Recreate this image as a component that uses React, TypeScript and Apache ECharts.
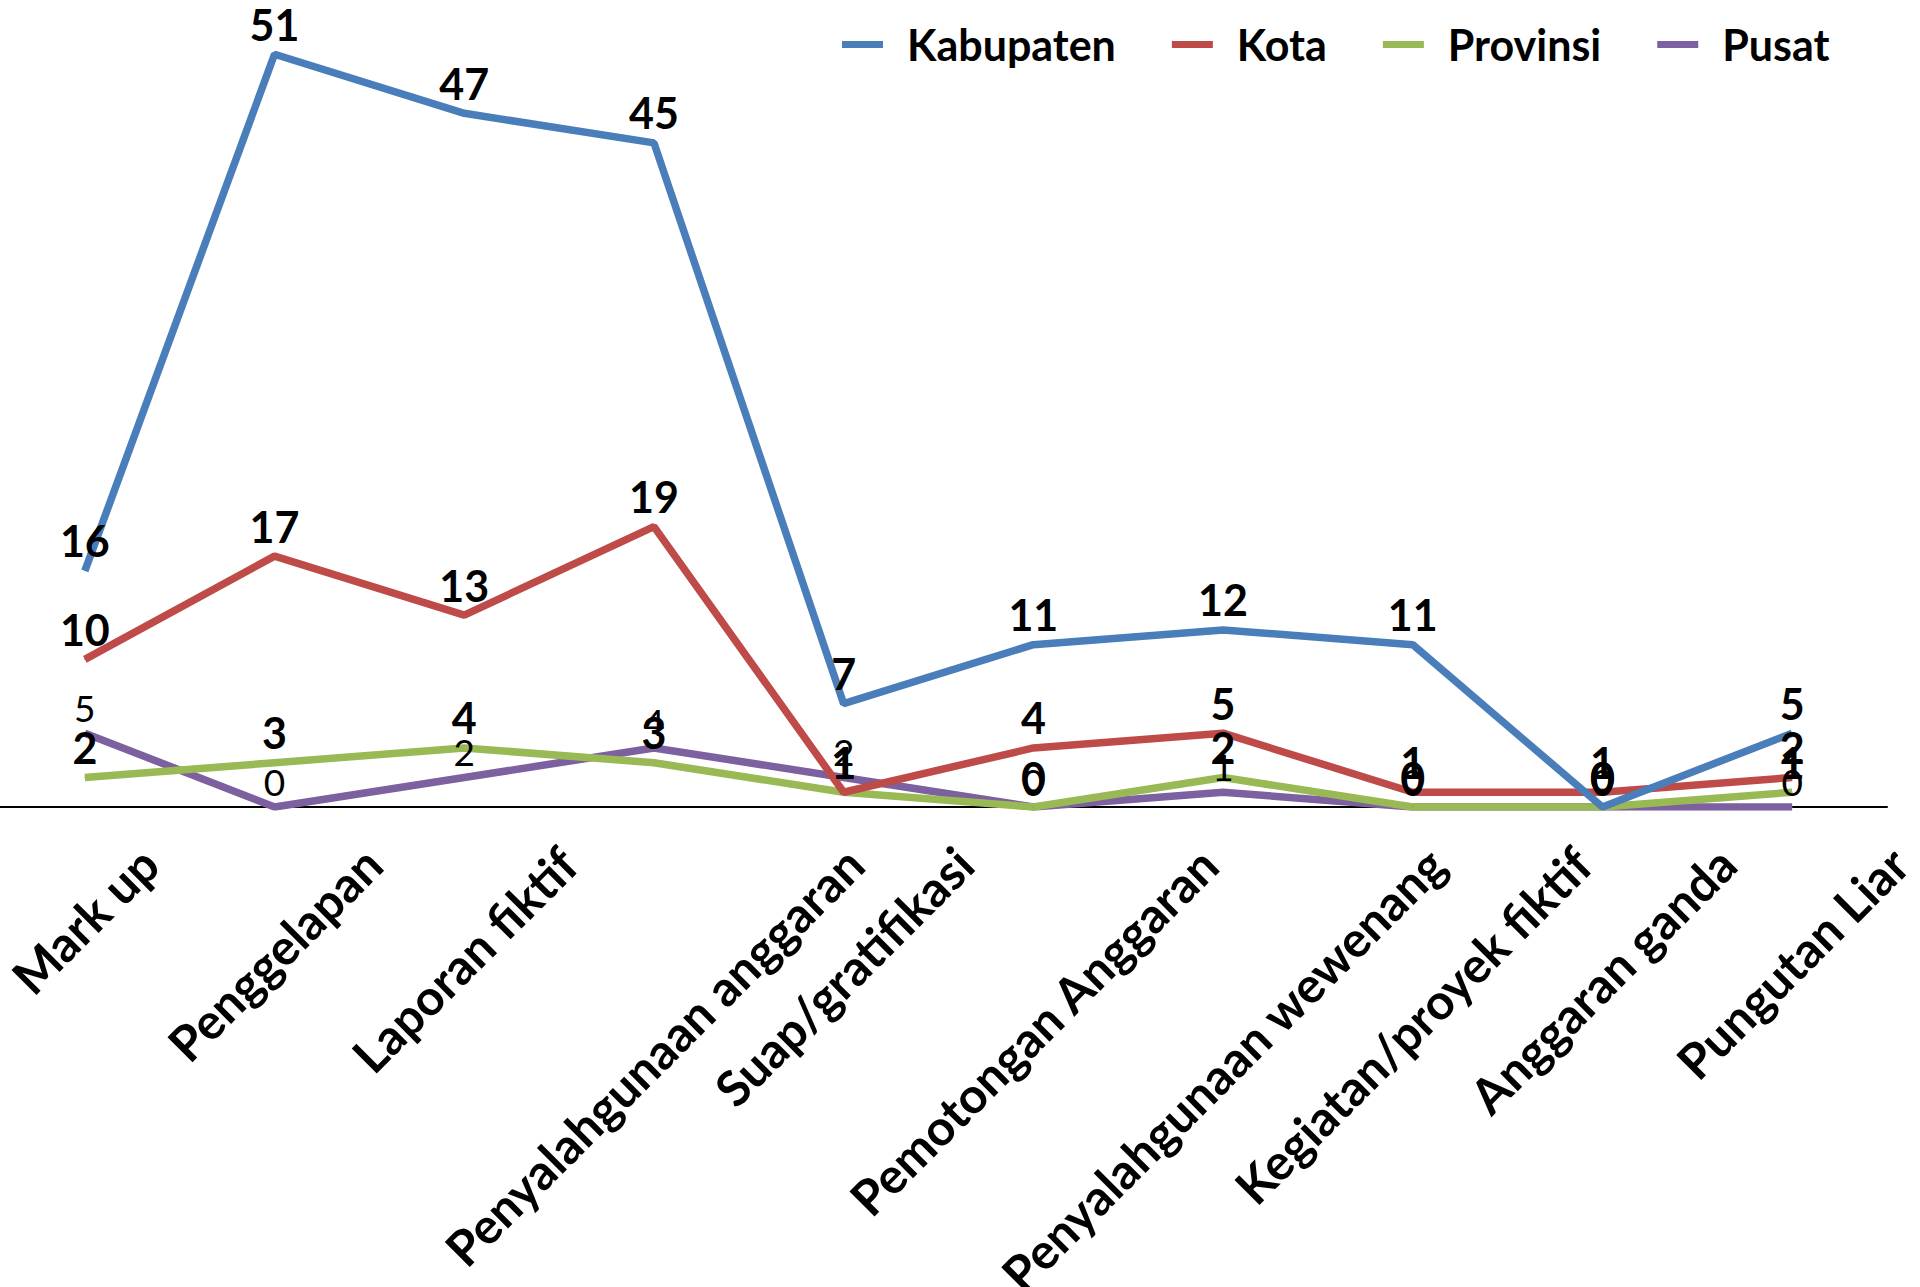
import React, { useEffect, useRef } from 'react';
import * as echarts from 'echarts';

const categories = [
  'Mark up',
  'Penggelapan',
  'Laporan fiktif',
  'Penyalahgunaan anggaran',
  'Suap/gratifikasi',
  'Pemotongan Anggaran',
  'Penyalahgunaan wewenang',
  'Kegiatan/proyek fiktif',
  'Anggaran ganda',
  'Pungutan Liar',
];
const kabupaten = [16, 51, 47, 45, 7, 11, 12, 11, 0, 5];
const kota = [10, 17, 13, 19, 1, 4, 5, 1, 1, 2];
const provinsi = [2, 3, 4, 3, 1, 0, 2, 0, 0, 1];
const pusat = [5, 0, 2, 4, 2, 0, 1, 0, 0, 0];
const seriesNames = ['Kabupaten', 'Kota', 'Provinsi', 'Pusat'];
const seriesColors = ['#4A7EBB', '#BE4B48', '#98B954', '#7D60A0'];

export default function App() {
  const ref = useRef<HTMLDivElement>(null);
  useEffect(() => {
    if (!ref.current) return;
    document.body.style.margin = '0';
    const chart = echarts.init(ref.current, null, { renderer: 'svg' });
    const AX_FONT = 49;
    const canvas = document.createElement('canvas');
    const ctx = canvas.getContext('2d');
    if (ctx) ctx.font = `bold ${AX_FONT}px Lato`;
    const xData = categories.map((c) => {
      const L = ctx ? ctx.measureText(c).width : c.length * AX_FONT * 0.5;
      const H = AX_FONT;
      const t = Math.max(0, (L - H) / 4);
      const r = 2 * t + H;
      return {
        value: c,
        textStyle: {
          align: 'center',
          verticalAlign: 'top',
          padding: [t, r, 0, 0],
        },
      };
    });
    const boldLabel = {
      show: true,
      position: 'top',
      distance: 8,
      color: '#000',
      fontFamily: 'Lato',
      fontWeight: 'bold',
      fontSize: 43,
      lineHeight: 43,
    };
    const mk = (name: string, data: number[], idx: number, label: any) => ({
      name,
      type: 'line',
      data,
      symbol: 'circle',
      symbolSize: 1,
      showSymbol: true,
      lineStyle: { width: 7.5, color: seriesColors[idx] },
      itemStyle: { color: seriesColors[idx] },
      label,
      emphasis: { disabled: true },
    });
    chart.setOption({
      animation: false,
      textStyle: { fontFamily: 'Lato' },
      legend: {
        data: seriesNames,
        left: 837,
        top: 18,
        icon: 'rect',
        itemWidth: 41,
        itemHeight: 7,
        itemGap: 56,
        textStyle: {
          fontFamily: 'Lato',
          fontWeight: 'bold',
          fontSize: 43,
          lineHeight: 43,
          color: '#000',
          padding: [0, 0, 0, 19],
        },
      },
      grid: {
        left: -10,
        right: 33,
        top: 10,
        bottom: 480,
        containLabel: false,
        outerBoundsMode: 'none',
      },
      xAxis: {
        type: 'category',
        data: xData,
        boundaryGap: true,
        axisLine: { show: true, lineStyle: { color: '#000', width: 2 } },
        axisTick: { show: false },
        splitLine: { show: false },
        axisLabel: {
          interval: 0,
          rotate: 45,
          margin: 31,
          color: '#000',
          fontFamily: 'Lato',
          fontWeight: 'bold',
          fontSize: AX_FONT,
          lineHeight: AX_FONT,
        },
      },
      yAxis: {
        type: 'value',
        min: 0,
        max: 54,
        show: false,
        splitLine: { show: false },
      },
      series: [
        mk('Pusat', pusat, 3, {
          ...boldLabel,
          fontWeight: 'normal',
          fontSize: 37,
          lineHeight: 37,
          distance: 7,
        }),
        mk('Provinsi', provinsi, 2, boldLabel),
        mk('Kota', kota, 1, boldLabel),
        mk('Kabupaten', kabupaten, 0, boldLabel),
      ],
    });
    return () => chart.dispose();
  }, []);
  return <div ref={ref} style={{ width: 1920, height: 1287 }} />;
}
